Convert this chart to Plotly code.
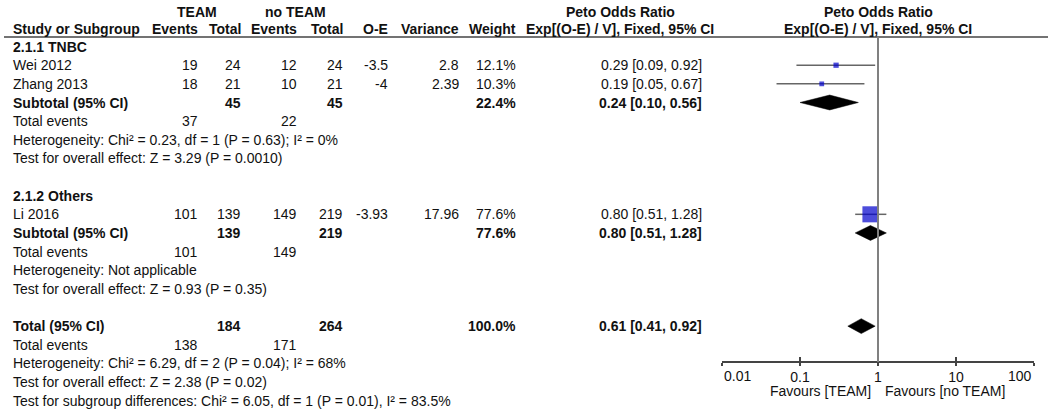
import math
import plotly.graph_objects as go

W, H = 1052, 410
FONT = "Arial, 'Liberation Sans', sans-serif"
FS = 14

# --- study level data -------------------------------------------------------
studies = ["Wei 2012", "Zhang 2013", "Li 2016"]
study_group = [0, 0, 1]
team_events = [19, 18, 101]
team_total = [24, 21, 139]
noteam_events = [12, 10, 149]
noteam_total = [24, 21, 219]
o_minus_e = [-3.5, -4, -3.93]
variance = [2.8, 2.39, 17.96]
weight = [12.1, 10.3, 77.6]
study_or = [0.29, 0.19, 0.80]
study_lo = [0.09, 0.05, 0.51]
study_hi = [0.92, 0.67, 1.28]

# --- subgroups --------------------------------------------------------------
groups = ["2.1.1 TNBC", "2.1.2 Others"]
sub_team_total = [45, 139]
sub_noteam_total = [45, 219]
sub_team_events = [37, 101]
sub_noteam_events = [22, 149]
sub_weight = [22.4, 77.6]
sub_or = [0.24, 0.80]
sub_lo = [0.10, 0.51]
sub_hi = [0.56, 1.28]
sub_het = ["Heterogeneity: Chi² = 0.23, df = 1 (P = 0.63); I² = 0%",
           "Heterogeneity: Not applicable"]
sub_test = ["Test for overall effect: Z = 3.29 (P = 0.0010)",
            "Test for overall effect: Z = 0.93 (P = 0.35)"]

# --- overall ----------------------------------------------------------------
tot_team_total = 184
tot_noteam_total = 264
tot_team_events = 138
tot_noteam_events = 171
tot_weight = 100.0
tot_or = 0.61
tot_lo = 0.41
tot_hi = 0.92
tot_het = "Heterogeneity: Chi² = 6.29, df = 2 (P = 0.04); I² = 68%"
tot_test = "Test for overall effect: Z = 2.38 (P = 0.02)"
subgroup_test = "Test for subgroup differences: Chi² = 6.05, df = 1 (P = 0.01), I² = 83.5%"

axis_ticks = [0.01, 0.1, 1, 10, 100]
axis_labels = ["0.01", "0.1", "1", "10", "100"]
favours = ["Favours [TEAM]", "Favours [no TEAM]"]

# column positions (px from left)
X_STUDY, X_EV1, X_TOT1, X_EV2, X_TOT2 = 11, 200, 243, 299, 345
X_OE, X_VAR, X_WT, X_CI, X_CI_HEAD = 390, 461, 518, 704, 620
AXIS_Y = 362
HEAD_LINE_Y = 37
TICKLAB_Y = 376
FAV_Y = 391
HEAD_ROWS = (0.12, 1.05)
ROW_PX, ROW0_PX = 18.636, 9.32   # row spacing and position of row 0


def px(x):
    return x / W


def py(y):
    return 1 - y / H


annotations = []


def txt(s, xpx, row, anchor="left", bold=False):
    annotations.append(dict(
        text="<b>%s</b>" % s if bold else s,
        x=px(xpx), xref="paper", y=row, yref="y",
        xanchor=anchor, yanchor="middle", showarrow=False,
        font=dict(family=FONT, size=FS, color="#111")))


def axis_txt(s, value, yval, anchor, shift=0, bold=False, yref="paper"):
    # annotations on a log axis take log10 positions
    annotations.append(dict(
        text="<b>%s</b>" % s if bold else s,
        x=math.log10(value), xref="x", xshift=shift, y=yval, yref=yref,
        xanchor=anchor, yanchor="middle", showarrow=False,
        font=dict(family=FONT, size=FS, color="#111")))


def ci_text(o, lo, hi):
    return "%.2f [%.2f, %.2f]" % (o, lo, hi)


# headers
h0, h1 = HEAD_ROWS
txt("TEAM", 197, h0, "center", True)
txt("no TEAM", 295, h0, "center", True)
txt("Peto Odds Ratio", X_CI_HEAD, h0, "center", True)
txt("Study or Subgroup", X_STUDY, h1, bold=True)
for label, xp in [("Events", X_EV1), ("Total", X_TOT1), ("Events", X_EV2),
                  ("Total", X_TOT2), ("O-E", X_OE), ("Variance", X_VAR),
                  ("Weight", X_WT)]:
    txt(label, xp, h1, "right", True)
txt("Exp[(O-E) / V], Fixed, 95% CI", X_CI_HEAD, h1, "center", True)
# right-hand header, centred on the line of no effect
axis_txt("Peto Odds Ratio", 1, h0, "center", bold=True, yref="y")
axis_txt("Exp[(O-E) / V], Fixed, 95% CI", 1, h1, "center", bold=True, yref="y")

study_rows = [None] * len(studies)
sub_rows = []
row = 2
for g, name in enumerate(groups):
    txt(name, X_STUDY, row, bold=True)
    row += 1
    for i, s in enumerate(studies):
        if study_group[i] != g:
            continue
        study_rows[i] = row
        txt(s, X_STUDY, row)
        txt(str(team_events[i]), X_EV1, row, "right")
        txt(str(team_total[i]), X_TOT1, row, "right")
        txt(str(noteam_events[i]), X_EV2, row, "right")
        txt(str(noteam_total[i]), X_TOT2, row, "right")
        txt("%g" % o_minus_e[i], X_OE, row, "right")
        txt("%g" % variance[i], X_VAR, row, "right")
        txt("%.1f%%" % weight[i], X_WT, row, "right")
        txt(ci_text(study_or[i], study_lo[i], study_hi[i]), X_CI, row, "right")
        row += 1
    sub_rows.append(row)
    txt("Subtotal (95% CI)", X_STUDY, row, bold=True)
    txt(str(sub_team_total[g]), X_TOT1, row, "right", True)
    txt(str(sub_noteam_total[g]), X_TOT2, row, "right", True)
    txt("%.1f%%" % sub_weight[g], X_WT, row, "right", True)
    txt(ci_text(sub_or[g], sub_lo[g], sub_hi[g]), X_CI, row, "right", True)
    row += 1
    txt("Total events", X_STUDY, row)
    txt(str(sub_team_events[g]), X_EV1, row, "right")
    txt(str(sub_noteam_events[g]), X_EV2, row, "right")
    row += 1
    txt(sub_het[g], X_STUDY, row)
    row += 1
    txt(sub_test[g], X_STUDY, row)
    row += 2

tot_row = row
txt("Total (95% CI)", X_STUDY, row, bold=True)
txt(str(tot_team_total), X_TOT1, row, "right", True)
txt(str(tot_noteam_total), X_TOT2, row, "right", True)
txt("%.1f%%" % tot_weight, X_WT, row, "right", True)
txt(ci_text(tot_or, tot_lo, tot_hi), X_CI, row, "right", True)
txt("Total events", X_STUDY, row + 1)
txt(str(tot_team_events), X_EV1, row + 1, "right")
txt(str(tot_noteam_events), X_EV2, row + 1, "right")
txt(tot_het, X_STUDY, row + 2)
txt(tot_test, X_STUDY, row + 3)
txt(subgroup_test, X_STUDY, row + 4)

# end tick labels sit inside the axis ends, favours labels under the axis
axis_txt(axis_labels[0], axis_ticks[0], py(TICKLAB_Y), "left")
axis_txt(axis_labels[-1], axis_ticks[-1], py(TICKLAB_Y), "right")
axis_txt(favours[0], 1, py(FAV_Y), "right", -5)
axis_txt(favours[1], 1, py(FAV_Y), "left", 5)

# --- marks ------------------------------------------------------------------
ci_x, ci_y = [], []
for i in range(len(studies)):
    ci_x += [study_lo[i], study_hi[i], None]
    ci_y += [study_rows[i], study_rows[i], None]

dia_x, dia_y = [], []
half = 0.4
for o, lo, hi, r in zip(sub_or + [tot_or], sub_lo + [tot_lo], sub_hi + [tot_hi],
                        sub_rows + [tot_row]):
    dia_x += [lo, o, hi, o, lo, None]
    dia_y += [r, r - half, r, r + half, r, None]

fig = go.Figure()
fig.add_trace(go.Scatter(x=ci_x, y=ci_y, mode="lines",
                         line=dict(color="#666", width=1.5), hoverinfo="skip"))
fig.add_trace(go.Scatter(x=study_or, y=study_rows, mode="markers",
                         marker=dict(symbol="square", color="#0000cc",
                                     size=[1.18 * w ** 0.6 for w in weight],
                                     line=dict(width=0))))
fig.add_trace(go.Scatter(x=dia_x, y=dia_y, mode="lines", fill="toself",
                         fillcolor="#000", line=dict(color="#000", width=0.5),
                         hoverinfo="skip"))
# empty trace carrying the downward half of the ticks
fig.add_trace(go.Scatter(x=[], y=[], xaxis="x2", showlegend=False))

ax_dom = [px(722), px(1034)]
ax_pos = py(AXIS_Y)
row_top = -ROW0_PX / ROW_PX
row_bot = (H - ROW0_PX) / ROW_PX
fig.update_layout(
    width=W, height=H, margin=dict(l=0, r=0, t=0, b=0),
    paper_bgcolor="white", plot_bgcolor="white", showlegend=False,
    xaxis=dict(type="log", range=[-2, 2], domain=ax_dom, anchor="free",
               position=ax_pos, showline=True, linecolor="#444", linewidth=1.5,
               ticks="inside", ticklen=4, tickwidth=1.5, tickcolor="#444",
               tickvals=axis_ticks, ticktext=[""] + axis_labels[1:-1] + [""],
               tickfont=dict(family=FONT, size=FS, color="#111"),
               ticklabelstandoff=2, showgrid=False, zeroline=False),
    xaxis2=dict(type="log", range=[-2, 2], domain=ax_dom, anchor="free",
                position=ax_pos, overlaying="x", showline=False, ticks="outside",
                ticklen=3, tickwidth=1.5, tickcolor="#444", tickvals=axis_ticks,
                showticklabels=False, showgrid=False, zeroline=False),
    yaxis=dict(range=[row_bot, row_top], domain=[0, 1], visible=False, anchor="x"),
    annotations=annotations,
    shapes=[
        dict(type="line", xref="paper", yref="paper", x0=px(4), x1=px(1048),
             y0=py(HEAD_LINE_Y), y1=py(HEAD_LINE_Y),
             line=dict(color="#444", width=1.5)),
        dict(type="line", xref="x", yref="paper", x0=1, x1=1,
             y0=ax_pos, y1=py(HEAD_LINE_Y), line=dict(color="#808080", width=2)),
    ],
)

# drop the browser's default body margin so the figure fills the window
fig.write_html("out.html",
               config={"displayModeBar": False},
               post_script="document.body.style.margin='0';"
                           "document.body.style.overflow='hidden';")
